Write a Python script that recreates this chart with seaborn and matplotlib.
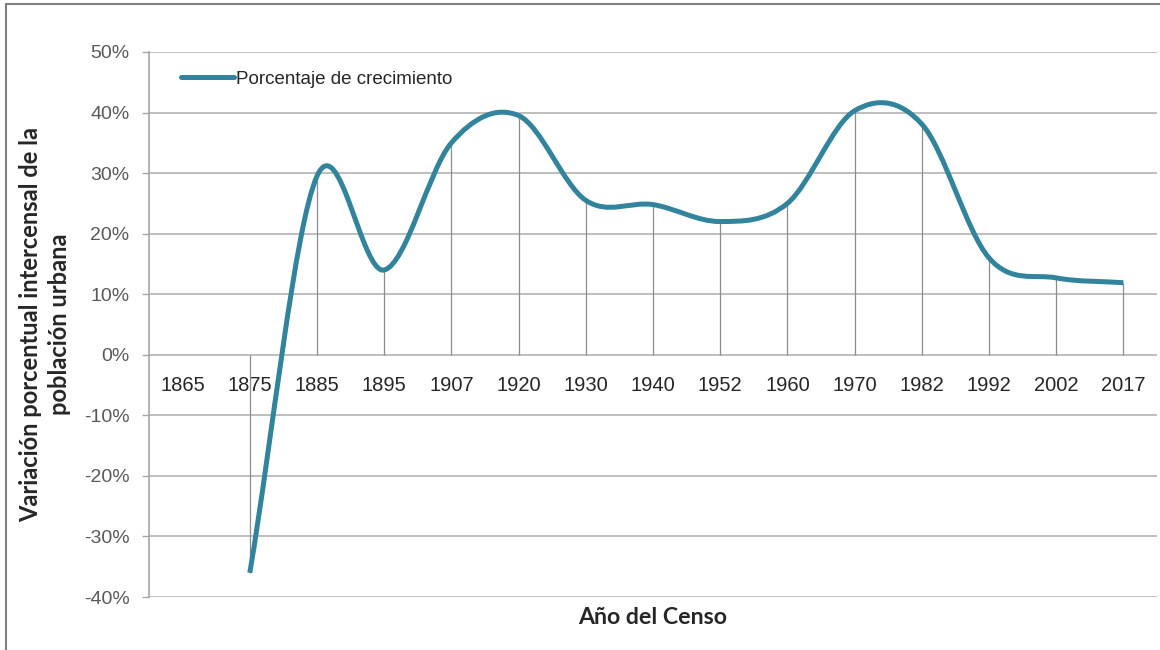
import numpy as np
import matplotlib
matplotlib.use("Agg")
import matplotlib.pyplot as plt
import seaborn as sns
from matplotlib.path import Path
from matplotlib.patches import PathPatch
from matplotlib.lines import Line2D

# census years (categorical x axis) and urban population growth (%)
years = ['1865', '1875', '1885', '1895', '1907', '1920', '1930', '1940',
         '1952', '1960', '1970', '1982', '1992', '2002', '2017']
growth = [np.nan, -36.0, 29.5, 14.0, 35.0, 39.5, 25.5, 24.8,
          22.0, 25.0, 40.3, 38.1, 16.0, 12.7, 11.9]
y_ticks = [-40, -30, -20, -10, 0, 10, 20, 30, 40, 50]

line_color = '#31849B'

sns.set_style('white')
plt.rcParams['font.family'] = ['Liberation Sans', 'DejaVu Sans']

fig = plt.figure(figsize=(11.6, 6.5), dpi=100)
ax = fig.add_axes([149 / 1160, 1 - 597 / 650, (1157 - 149) / 1160, (597 - 52) / 650])

x = np.arange(len(years))
vals = np.array(growth)
ok = ~np.isnan(vals)
px, py = x[ok].astype(float), vals[ok]

# smoothed line (Excel style): cubic bezier segments, catmull-rom tangents
n = len(px)
tang = np.zeros(n)
for i in range(n):
    a = max(i - 1, 0)
    b = min(i + 1, n - 1)
    tang[i] = (py[b] - py[a]) / (px[b] - px[a])
verts = [(px[0], py[0])]
codes = [Path.MOVETO]
for i in range(n - 1):
    d = (px[i + 1] - px[i]) / 3
    verts += [(px[i] + d, py[i] + tang[i] * d),
              (px[i + 1] - d, py[i + 1] - tang[i + 1] * d),
              (px[i + 1], py[i + 1])]
    codes += [Path.CURVE4] * 3
ax.add_patch(PathPatch(Path(verts, codes), facecolor='none', edgecolor=line_color,
                       lw=3.6, capstyle='butt', zorder=4))

# drop lines from the zero axis to each point
ax.vlines(px, 0, py, color='#8C8C8C', lw=0.9, zorder=2)

# horizontal gridlines
for t in y_ticks:
    ax.axhline(t, color='#B3B3B3', lw=1.2, zorder=1)

# category axis sits on the zero line (set before the labels, it resets ticks)
ax.spines['bottom'].set_position(('data', 0))
ax.spines['bottom'].set_visible(False)
for s in ['top', 'right']:
    ax.spines[s].set_visible(False)
ax.spines['left'].set_color('#A6A6A6')
ax.spines['left'].set_linewidth(1.2)

ax.set_xlim(-0.5, len(years) - 0.5)
ax.set_ylim(-40, 50)
ax.set_yticks(y_ticks)
ax.set_yticklabels([f'{t}%' for t in y_ticks], color='#595959', fontsize=14)
ax.tick_params(axis='y', length=5, width=1, color='#A6A6A6', pad=9, direction='out', left=True)

ax.set_xticks(x)
ax.set_xticklabels(years, fontsize=14.5, color='#262626')
ax.tick_params(axis='x', length=0, pad=15)

ax.set_ylabel('Variación porcentual intercensal de la\npoblación urbana', fontsize=17,
              fontweight='bold', family=['Lato', 'DejaVu Sans'], color='#262626', labelpad=9, linespacing=1.3)
fig.text(653 / 1160, 1 - 617 / 650, 'Año del Censo', ha='center', va='center', fontsize=16.7,
         fontweight='bold', family=['Lato', 'DejaVu Sans'], color='#262626')

handle = Line2D([], [], color=line_color, lw=3.6)
leg = ax.legend([handle], ['Porcentaje de crecimiento'], loc='center left',
                bbox_to_anchor=(32 / 1008, 1 - 27 / 545), frameon=False, handlelength=2.85,
                handletextpad=0.1, borderaxespad=0, borderpad=0,
                prop={'size': 13.5})
for t in leg.get_texts():
    t.set_color('#262626')

# outer frame of the original image (left and top edges)
fig.add_artist(Line2D([6 / 1160, 6 / 1160], [0, 1 - 4 / 650], transform=fig.transFigure, color='#808080', lw=1.5))
fig.add_artist(Line2D([6 / 1160, 1], [1 - 4 / 650, 1 - 4 / 650], transform=fig.transFigure, color='#808080', lw=1.5))

fig.savefig('out.png', dpi=100, facecolor='white')
